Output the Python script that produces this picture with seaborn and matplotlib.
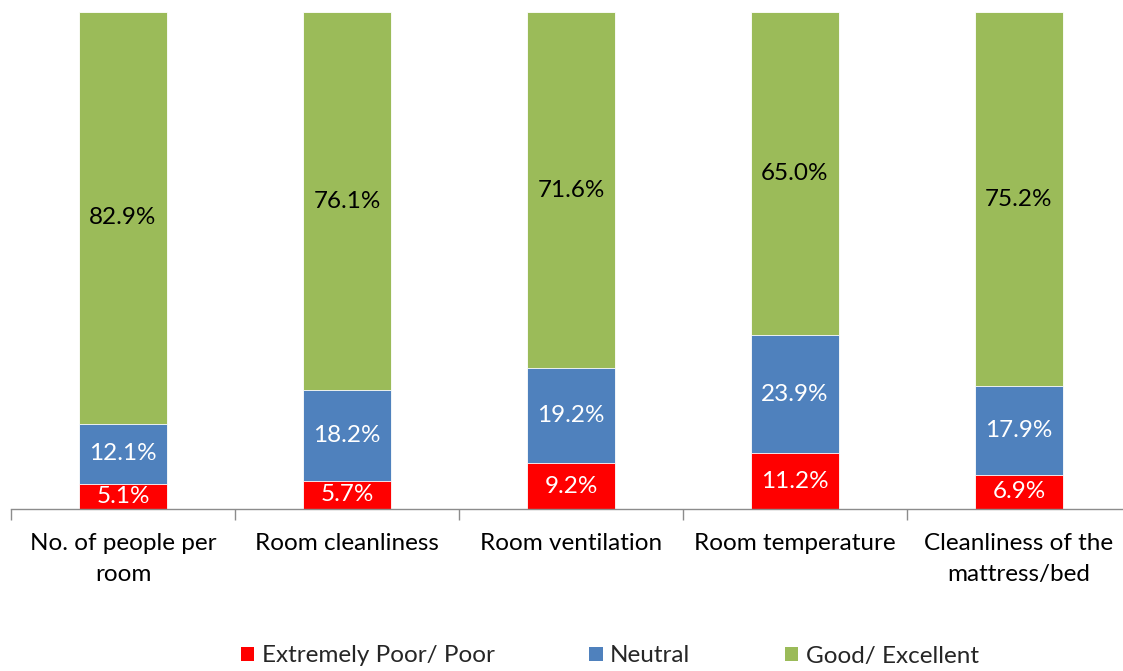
import matplotlib
matplotlib.use("Agg")
import matplotlib.pyplot as plt
import seaborn as sns
import pandas as pd
import numpy as np
from matplotlib.patches import Patch

categories = ["No. of people per\nroom", "Room cleanliness", "Room ventilation",
              "Room temperature", "Cleanliness of the\nmattress/bed"]
poor = [5.1, 5.7, 9.2, 11.2, 6.9]
neutral = [12.1, 18.2, 19.2, 23.9, 17.9]
good = [82.9, 76.1, 71.6, 65.0, 75.2]
series_names = ["Extremely Poor/ Poor", "Neutral", "Good/ Excellent"]
colors = ["#FF0000", "#4F81BD", "#9BBB59"]

sns.set_theme(style="white")
plt.rcParams['font.family'] = ['Lato', 'DejaVu Sans']

W, H = 1123, 671
fig = plt.figure(figsize=(W / 100, H / 100), dpi=100)
ax = fig.add_axes([11 / W, (H - 509) / H, (1131 - 11) / W, 497 / H])

df = pd.DataFrame({"cat": categories, "poor": poor, "neutral": neutral, "good": good})
df["c_poor"] = df["poor"]
df["c_neutral"] = df["poor"] + df["neutral"]
df["c_good"] = df["c_neutral"] + df["good"]

bw = 88 / 224
for col, color in zip(["c_good", "c_neutral", "c_poor"], colors[::-1]):
    sns.barplot(data=df, x="cat", y=col, color=color, width=bw, ax=ax,
                saturation=1, edgecolor="white", linewidth=0.6, errorbar=None)

fs = 17.5
for i in range(len(categories)):
    segs = [(0, poor[i], "white"), (poor[i], neutral[i], "white"),
            (poor[i] + neutral[i], good[i], "black")]
    for b, h, tc in segs:
        ax.text(i, b + h / 2, f"{h:.1f}%", ha="center", va="center",
                fontsize=fs, color=tc)

ax.set_xlim(-0.5, 4.5)
ax.set_ylim(0, 100.1)
ax.set_xlabel("")
ax.set_ylabel("")
ax.set_yticks([])
ax.set_xticks(range(len(categories)))
ax.set_xticklabels(categories, fontsize=fs, color="black", linespacing=1.6)
ax.set_xticks(np.arange(-0.5, 5, 1), minor=True)
ax.tick_params(axis="x", which="major", length=0, pad=17)
ax.tick_params(axis="x", which="minor", length=8, width=1, color="#8C8C8C",
               direction="out", bottom=True)
for s in ["top", "left", "right"]:
    ax.spines[s].set_visible(False)
ax.spines["bottom"].set_color("#8C8C8C")
ax.spines["bottom"].set_linewidth(1)

handles = [Patch(facecolor=c, edgecolor="none") for c in colors]
fig.legend(handles, series_names, loc="center", bbox_to_anchor=(0.543, 15 / H),
           ncol=3, frameon=False, fontsize=fs, handlelength=0.55, handleheight=0.55,
           handletextpad=0.3, columnspacing=3.9, borderpad=0)

fig.savefig("out.png", dpi=100)
